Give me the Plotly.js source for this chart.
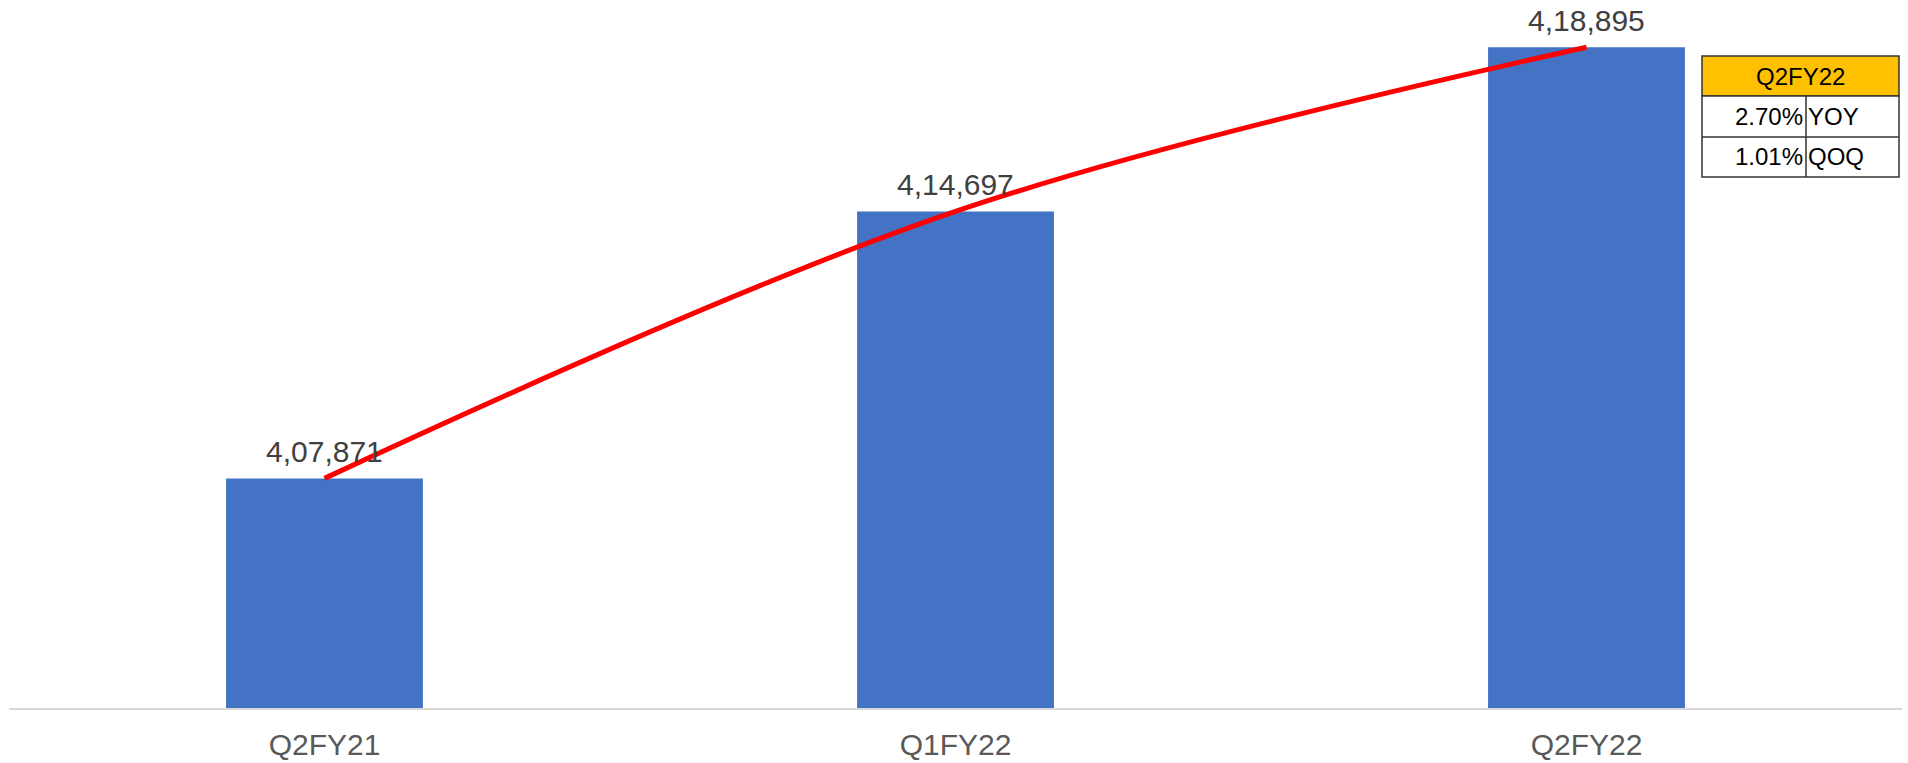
<!DOCTYPE html>
<html>
<head>
<meta charset="utf-8">
<script src="https://cdn.plot.ly/plotly-3.0.1.min.js"></script>
<style>html,body{margin:0;padding:0;background:#fff;}#chart{width:1908px;height:763px;}</style>
</head>
<body>
<div id="chart"></div>
<script>
// ---- data ----
const quarters = ["Q2FY21", "Q1FY22", "Q2FY22"];
const values = [407871, 414697, 418895];
const valueLabels = ["4,07,871", "4,14,697", "4,18,895"];
const tableHeader = "Q2FY22";
const tableRowValues = ["2.70%", "1.01%"];
const tableRowNames = ["YOY", "QOQ"];

// ---- layout geometry (pixels) ----
const W = 1908, H = 763;
const M = {l: 9, r: 6, t: 4, b: 55};
const plotW = W - M.l - M.r, plotH = H - M.t - M.b;
const px = x => (x - M.l) / plotW;
const py = y => (H - M.b - y) / plotH;

const fontFam = "Arial, 'Liberation Sans', sans-serif";

const barTrace = {
  type: "bar",
  x: quarters,
  y: values,
  width: 0.312,
  marker: {color: "#4472C4"},
  hoverinfo: "skip"
};
const lineTrace = {
  type: "scatter",
  mode: "lines",
  x: quarters,
  y: values,
  line: {color: "#FF0000", width: 5, shape: "spline", smoothing: 1},
  hoverinfo: "skip"
};

const annotations = quarters.map((q, i) => ({
  x: q, y: values[i], xref: "x", yref: "y",
  text: valueLabels[i], showarrow: false,
  xanchor: "center", yanchor: "bottom", yshift: 8,
  font: {family: fontFam, size: 30, color: "#404040"}
}));

// table geometry
const tL = 1702, tR = 1899, tMid = 1806;
const rowsY = [56, 96, 137, 177];
const border = {color: "#333333", width: 1.5};
const shapes = [
  {type: "rect", xref: "paper", yref: "paper", x0: px(tL), x1: px(tR), y0: py(rowsY[1]), y1: py(rowsY[0]),
   fillcolor: "#FFC000", line: border, layer: "above"},
  {type: "rect", xref: "paper", yref: "paper", x0: px(tL), x1: px(tR), y0: py(rowsY[3]), y1: py(rowsY[1]),
   fillcolor: "#FFFFFF", line: border, layer: "above"},
  {type: "line", xref: "paper", yref: "paper", x0: px(tL), x1: px(tR), y0: py(rowsY[2]), y1: py(rowsY[2]),
   line: border, layer: "above"},
  {type: "line", xref: "paper", yref: "paper", x0: px(tMid), x1: px(tMid), y0: py(rowsY[3]), y1: py(rowsY[1]),
   line: border, layer: "above"}
];
annotations.push({
  xref: "paper", yref: "paper", x: px((tL + tR) / 2), y: py((rowsY[0] + rowsY[1]) / 2),
  text: tableHeader, showarrow: false, xanchor: "center", yanchor: "middle",
  font: {family: fontFam, size: 24, color: "#000000"}
});
tableRowValues.forEach((v, i) => {
  const yc = py((rowsY[i + 1] + rowsY[i + 2]) / 2);
  annotations.push({
    xref: "paper", yref: "paper", x: px(tMid - 2), y: yc, text: v, showarrow: false,
    xanchor: "right", yanchor: "middle", borderpad: 0,
    font: {family: fontFam, size: 24, color: "#000000"}
  });
  annotations.push({
    xref: "paper", yref: "paper", x: px(tMid + 1), y: yc, text: tableRowNames[i], showarrow: false,
    xanchor: "left", yanchor: "middle", borderpad: 0,
    font: {family: fontFam, size: 24, color: "#000000"}
  });
});

const layout = {
  width: W, height: H,
  margin: M,
  paper_bgcolor: "#FFFFFF",
  plot_bgcolor: "#FFFFFF",
  showlegend: false,
  xaxis: {
    type: "category",
    range: [-0.5, 2.5],
    showline: true, linecolor: "#D9D9D9", linewidth: 2,
    showgrid: false, zeroline: false,
    ticks: "", ticklabelstandoff: 9,
    tickfont: {family: fontFam, size: 30, color: "#595959"}
  },
  yaxis: {
    range: [402000, 420000],
    visible: false, showgrid: false, zeroline: false
  },
  annotations: annotations,
  shapes: shapes
};

Plotly.newPlot("chart", [barTrace, lineTrace], layout, {staticPlot: true, displayModeBar: false});
</script>
</body>
</html>
